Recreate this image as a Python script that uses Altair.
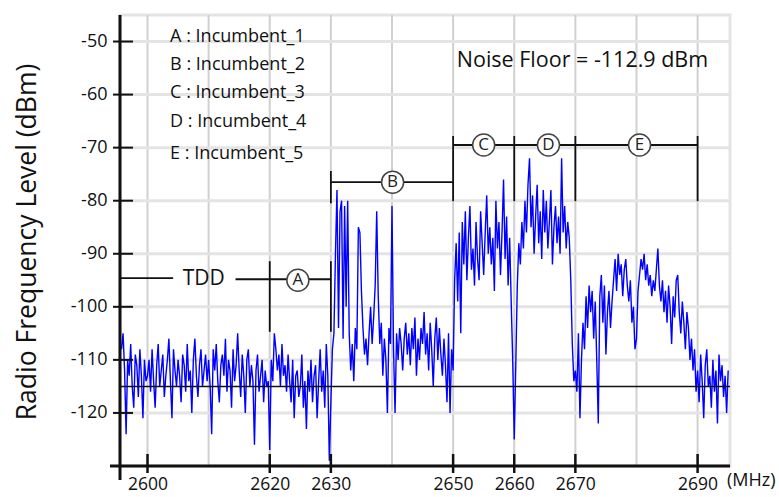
import altair as alt
import pandas as pd

# ---------------- spectrum trace (dBm), one sample every 0.25 MHz ----------------
START_MHZ = 2595.75
STEP_MHZ = 0.25
lvl_2595 = [-108, -105, -112, -124, -110, -113, -107, -115, -119, -109, -111, -117, -108, -113, -121, -110, -114]
lvl_2600 = [-113, -110, -116, -108, -114, -119, -111, -107, -115, -112,
            -109, -117, -113, -110, -106, -114, -121, -108, -112, -115,
            -110, -113, -118, -109, -111, -116, -107, -114, -112, -120,
            -110, -106, -113, -117, -111, -108, -115, -112, -109, -114]
lvl_2610 = [-110, -115, -124, -108, -112, -107, -114, -118, -111, -109,
            -113, -106, -116, -110, -112, -119, -108, -114, -111, -105,
            -112, -117, -109, -113, -120, -110, -108, -115, -111, -114,
            -126, -112, -109, -116, -113, -110, -118, -112, -115, -114]
lvl_2620 = [-127, -110, -114, -105, -108, -112, -109, -115, -107, -113,
            -111, -116, -109, -114, -118, -110, -121, -113, -112, -117,
            -115, -109, -119, -114, -123, -112, -116, -110, -118, -113,
            -111, -121, -114, -108, -116, -112, -119, -107, -113, -129]
lvl_2630 = [-118, -108, -105, -90, -78, -104, -82, -80, -106, -81,
            -100, -80, -105, -112, -107, -114, -104, -108, -85, -86,
            -97, -104, -109, -106, -111, -105, -100, -107, -102, -96,
            -82, -98, -107, -103, -113, -106, -110, -120, -104, -107]
lvl_2640 = [-81, -108, -120, -105, -110, -104, -107, -112, -106, -103,
            -109, -105, -111, -104, -108, -102, -113, -106, -110, -104,
            -107, -101, -109, -105, -112, -103, -108, -115, -106, -102,
            -110, -104, -109, -113, -106, -111, -118, -105, -120, -108]
lvl_2650 = [-112, -95, -88, -99, -86, -105, -84, -92, -82, -95,
            -87, -81, -93, -89, -96, -84, -91, -95, -82, -88,
            -94, -86, -79, -90, -85, -92, -87, -97, -80, -89,
            -84, -94, -86, -76, -91, -83, -96, -87, -99, -110]
lvl_2660 = [-125, -111, -96, -88, -92, -84, -89, -80, -86, -77,
            -72, -85, -79, -90, -83, -77, -88, -82, -91, -78,
            -86, -80, -89, -84, -78, -92, -85, -81, -88, -83,
            -90, -72, -86, -81, -89, -84, -87, -95, -107, -114]
lvl_2670 = [-112, -116, -105, -121, -110, -103, -108, -98, -104, -96,
            -101, -97, -106, -99, -110, -122, -98, -94, -103, -96,
            -109, -101, -97, -104, -99, -95, -91, -97, -90, -94,
            -92, -98, -93, -91, -96, -99, -95, -103, -100, -108]
lvl_2680 = [-106, -97, -94, -91, -93, -90, -95, -92, -96, -94,
            -98, -95, -97, -93, -89, -96, -99, -95, -101, -97,
            -103, -96, -100, -107, -98, -102, -95, -94, -101, -105,
            -99, -103, -108, -101, -104, -110, -106, -112, -108, -116]
lvl_2690 = [-112, -118, -109, -114, -121, -111, -108, -115, -113, -119,
            -110, -116, -112, -122, -109, -114, -111, -117, -113, -120, -112]

levels = (lvl_2595 + lvl_2600 + lvl_2610 + lvl_2620 + lvl_2630 + lvl_2640
          + lvl_2650 + lvl_2660 + lvl_2670 + lvl_2680 + lvl_2690)
freqs = [START_MHZ + STEP_MHZ * i for i in range(len(levels))]
trace = pd.DataFrame({"f": freqs, "v": levels})

# ---------------- axes / grid ----------------
X_DOMAIN = [2595.5, 2695.3]
Y_DOMAIN = [-130, -45]
grid_freqs = [2600, 2610, 2620, 2630, 2640, 2650, 2660, 2670, 2680, 2690]
grid_levels = [-50, -60, -70, -80, -90, -100, -110, -120]
x_tick_freqs = [2600, 2620, 2630, 2650, 2660, 2670, 2690]
noise_floor_level = -115

# ---------------- annotations ----------------
legend_lines = ["A : Incumbent_1", "B : Incumbent_2", "C : Incumbent_3",
                "D : Incumbent_4", "E : Incumbent_5"]
legend_x = [2603.7, 2603.7, 2603.7, 2603.7, 2603.7]
legend_y = [-49.1, -54.4, -59.7, -65.2, -71.2]

band_letters = ["A", "B", "C", "D", "E"]
band_x = [2624.6, 2640.1, 2655.0, 2665.6, 2680.5]
band_y = [-95.0, -76.5, -69.5, -69.5, -69.5]

hseg_x1 = [2595.6, 2614.4, 2630, 2650]
hseg_x2 = [2604.2, 2630, 2650, 2690]
hseg_y = [-94.6, -94.8, -76.5, -69.5]

vseg_x = [2620, 2630, 2630, 2650, 2660, 2670, 2690]
vseg_y1 = [-91.4, -91.4, -74.4, -67.8, -67.8, -67.8, -67.8]
vseg_y2 = [-104.7, -104.7, -80.5, -80.1, -80.1, -80.1, -80.1]

FONT = "Open Sans"
W, H = 610, 451

x_axis = alt.Axis(values=x_tick_freqs, format="d", ticks=False, tickSize=0, domain=False, grid=False,
                  labelFont=FONT, labelFontSize=17.5, labelColor="#111", labelPadding=9,
                  labelBaseline="top", title="")
y_axis = alt.Axis(values=grid_levels, labelExpr="'-' + abs(datum.value)", ticks=False, tickSize=0,
                  domain=False, grid=False, labelFont=FONT, labelFontSize=18, labelColor="#111",
                  labelPadding=13, title="Radio Frequency Level (dBm)", titleFont=FONT,
                  titleFontSize=26.5, titleFontWeight="normal", titleColor="#111",
                  titleX=-85, titleY=H / 2 + 1, titleAngle=270, titleAlign="center",
                  titleBaseline="alphabetic")


def X(field, **kw):
    return alt.X(field, type="quantitative", scale=alt.Scale(domain=X_DOMAIN, nice=False, zero=False),
                 axis=x_axis, **kw)


def Y(field, **kw):
    return alt.Y(field, type="quantitative", scale=alt.Scale(domain=Y_DOMAIN, nice=False, zero=False),
                 axis=y_axis, **kw)


one = pd.DataFrame({"d": [0]})

vgrid = alt.Chart(pd.DataFrame({"f": grid_freqs})).mark_rule(color="#d0d0d0", strokeWidth=2).encode(x=X("f"))
hgrid = alt.Chart(pd.DataFrame({"v": grid_levels})).mark_rule(color="#e4e4e4", strokeWidth=3).encode(y=Y("v"))

line = alt.Chart(trace).mark_line(color="#0000ff", strokeWidth=1.4, clip=True).encode(x=X("f"), y=Y("v"))

noise = alt.Chart(pd.DataFrame({"v": [noise_floor_level]})).mark_rule(color="#111", strokeWidth=1.5).encode(y=Y("v"))

y_axis_line = alt.Chart(one).mark_rule(color="#111", strokeWidth=3).encode(
    x=alt.value(0), y=alt.value(0), y2=alt.value(H + 14))
x_axis_line = alt.Chart(one).mark_rule(color="#111", strokeWidth=3).encode(
    y=alt.value(H), x=alt.value(-10), x2=alt.value(W))
y_ticks = alt.Chart(pd.DataFrame({"v": grid_levels})).mark_rule(color="#111", strokeWidth=2).encode(
    y=Y("v"), x=alt.value(-7), x2=alt.value(13))
x_ticks = alt.Chart(pd.DataFrame({"f": x_tick_freqs})).mark_rule(color="#111", strokeWidth=2.5).encode(
    x=X("f"), y=alt.value(H - 12), y2=alt.value(H + 7))

mhz = alt.Chart(one).mark_text(text="(MHz)", font=FONT, fontSize=18, color="#111", align="left",
                               baseline="middle").encode(x=alt.value(W - 3), y=alt.value(H + 15))

hsegs = alt.Chart(pd.DataFrame({"x1": hseg_x1, "x2": hseg_x2, "y": hseg_y})).mark_rule(
    color="#111", strokeWidth=1.8).encode(x=X("x1"), x2="x2:Q", y=Y("y"))
vsegs = alt.Chart(pd.DataFrame({"x": vseg_x, "y1": vseg_y1, "y2": vseg_y2})).mark_rule(
    color="#111", strokeWidth=1.8).encode(x=X("x"), y=Y("y1"), y2="y2:Q")

bands = pd.DataFrame({"x": band_x, "y": band_y, "t": band_letters})
circles = alt.Chart(bands).mark_point(shape="circle", size=484, filled=False, fill="white",
                                      fillOpacity=1, stroke="#444", strokeWidth=1.5, opacity=1).encode(
    x=X("x"), y=Y("y"))
letters = alt.Chart(bands).mark_text(font=FONT, fontSize=17, color="#222", align="center",
                                     baseline="middle").encode(x=X("x"), y=Y("y"), text="t:N")

legend = alt.Chart(pd.DataFrame({"x": legend_x, "y": legend_y, "t": legend_lines})).mark_text(
    font=FONT, fontSize=18, color="#111", align="left", baseline="middle").encode(
    x=X("x"), y=Y("y"), text="t:N")

texts = pd.DataFrame({"x": [2609.2, 2650.6], "y": [-94.75, -53.7],
                      "t": ["TDD", "Noise Floor = -112.9 dBm"]})
tdd = alt.Chart(texts.iloc[[0]]).mark_text(font=FONT, fontSize=21, color="#111", align="center",
                                           baseline="middle").encode(x=X("x"), y=Y("y"), text="t:N")
nf = alt.Chart(texts.iloc[[1]]).mark_text(font=FONT, fontSize=21.5, color="#111", align="left",
                                          baseline="middle").encode(x=X("x"), y=Y("y"), text="t:N")

chart = alt.layer(
    vgrid, hgrid, line, noise, y_axis_line, x_axis_line, y_ticks, x_ticks, mhz,
    hsegs, vsegs, circles, letters, legend, tdd, nf
).properties(
    width=W, height=H,
    autosize=alt.AutoSizeParams(type="none"),
    padding={"left": 120, "top": 15, "right": 49, "bottom": 31},
    background="white",
).configure_view(stroke="#e4e4e4", strokeWidth=3)

chart.save("out.html", embed_options={"renderer": "svg", "actions": False})
